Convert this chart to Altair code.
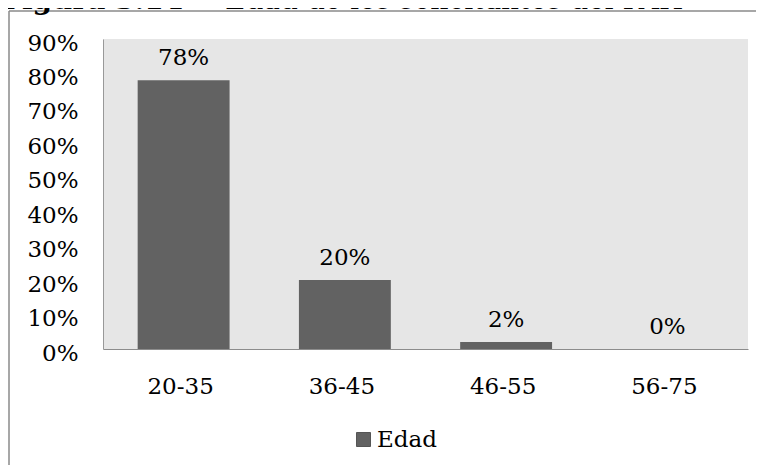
import altair as alt
import pandas as pd

categories = ["20-35", "36-45", "46-55", "56-75"]
values = [0.78, 0.20, 0.02, 0.00]
labels = ["78%", "20%", "2%", "0%"]
series_name = "Edad"
title_bold = "Figura 3.14"
title_rest = "Edad de los solicitantes del PAH"
y_ticks = [0, 0.1, 0.2, 0.3, 0.4, 0.5, 0.6, 0.7, 0.8, 0.9]

FONT = "DejaVu Serif"
BAR = "#626262"
FS = 23

df = pd.DataFrame({"cat": categories, "val": values, "lab": labels,
                   "serie": [series_name] * len(categories)})

x = alt.X("cat:N", sort=categories, title=None,
          scale=alt.Scale(paddingInner=0.43, paddingOuter=0.215),
          axis=alt.Axis(labelAngle=0, ticks=False, labelFont=FONT, labelFontSize=FS,
                        labelColor="#000000", labelBaseline="alphabetic",
                        labelPadding=44, labelOffset=-3, domainColor="#8c8c8c"))
y = alt.Y("val:Q", title=None,
          scale=alt.Scale(domain=[0, 0.9], nice=False),
          axis=alt.Axis(values=y_ticks, format=".0%", grid=False, ticks=False,
                        labelFont=FONT, labelFontSize=FS, labelColor="#000000",
                        labelPadding=25, labelBaseline="alphabetic", labelOffset=11,
                        domainColor="#999999"))

base = alt.Chart(df)

bars = base.mark_bar().encode(
    x=x, y=y,
    color=alt.Color("serie:N", scale=alt.Scale(range=[BAR]),
                    legend=alt.Legend(title=None, orient="none", legendX=249, legendY=389,
                                      symbolType="square", symbolSize=196,
                                      symbolStrokeColor="#555555", symbolStrokeWidth=1,
                                      labelFont=FONT, labelFontSize=FS, labelColor="#000000",
                                      labelOffset=2, padding=0)),
)

text = base.mark_text(font=FONT, fontSize=FS, color="#000000", baseline="alphabetic",
                      dy=-15).encode(x=x, y=y, text="lab:N")

one = pd.DataFrame({"a": [0]})
border_left = alt.Chart(one).mark_rule(color="#8a8a8a", strokeWidth=1.5).encode(
    x=alt.value(-94), y=alt.value(-28), y2=alt.value(500))
border_top = alt.Chart(one).mark_rule(color="#8a8a8a", strokeWidth=1.5).encode(
    x=alt.value(-94), x2=alt.value(800), y=alt.value(-28))

t1 = alt.Chart(one).mark_text(font=FONT, fontSize=28, fontWeight="bold", align="left",
                              baseline="alphabetic", color="#000000").encode(
    x=alt.value(-101), y=alt.value(-30), text=alt.value(title_bold))
t2 = alt.Chart(one).mark_text(font=FONT, fontSize=28, align="left",
                              baseline="alphabetic", color="#000000").encode(
    x=alt.value(122), y=alt.value(-30), text=alt.value(title_rest))

chart = alt.layer(bars, text, border_left, border_top, t1, t2).properties(
    width=645, height=310,
    autosize=alt.AutoSizeParams(type="none"),
    padding={"left": 95, "top": 31, "right": 8, "bottom": 116},
    background="#ffffff",
).configure_view(fill="#e6e6e6", stroke=None)

chart.save("out.html", embed_options={"renderer": "svg", "actions": False})
